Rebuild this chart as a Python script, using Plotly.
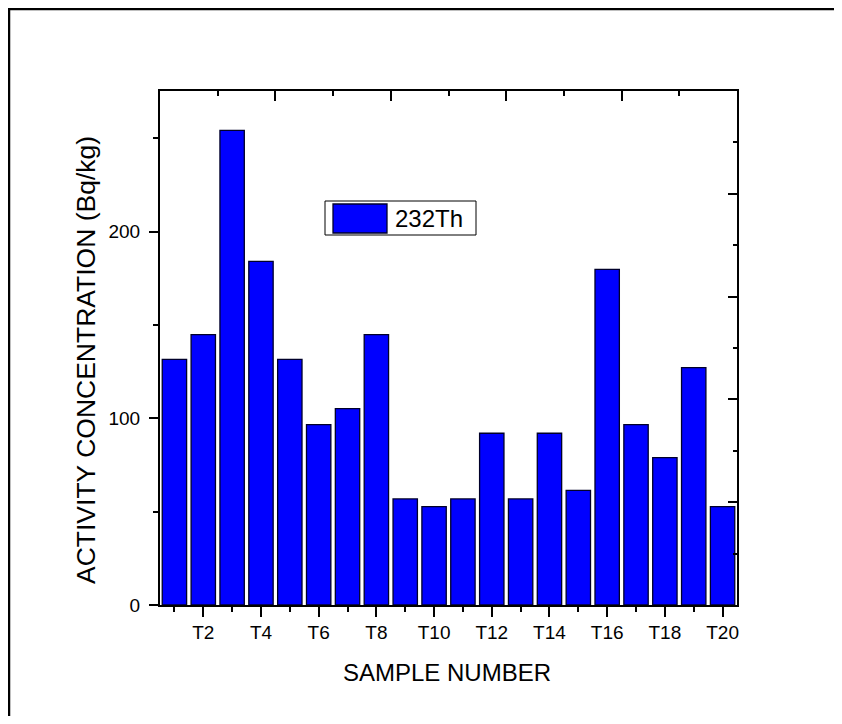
import plotly.graph_objects as go

# ---- data ----
samples = [f"T{i}" for i in range(1, 21)]
sample_pos = list(range(1, 21))
th232 = [131.6, 144.8, 254.2, 184.1, 131.6, 96.6, 105.2, 144.8, 56.8, 52.7,
         56.8, 92.0, 56.8, 92.0, 61.4, 179.8, 96.6, 78.9, 127.1, 52.7]
series_name = "232Th"
x_tick_vals = list(range(2, 21, 2))
x_tick_text = [samples[v - 1] for v in x_tick_vals]
y_tick_vals = [0, 100, 200]
x_title = "SAMPLE NUMBER"
y_title = "ACTIVITY CONCENTRATION (Bq/kg)"

# page body has an 8px margin: the figure is placed at (8, 8) on screen
OFF = 8
W, H = 842 - 2 * OFF, 724 - 2 * OFF
L, R, T, B = 160 - OFF, 737 - OFF, 91 - OFF, 605 - OFF
pw, ph = R - L, B - T

def px(x):  # screen x -> paper
    return (x - OFF - L) / pw

def py(y):  # screen y -> paper
    return (B - (y - OFF)) / ph

FONT = "Liberation Sans, Arial, sans-serif"

fig = go.Figure()
fig.add_trace(go.Bar(
    x=sample_pos, y=th232, name=series_name,
    marker=dict(color="#0000FF", line=dict(color="#00002a", width=1.3)),
    showlegend=False,
))
# helper invisible trace so the frame axes (top / right) exist
fig.add_trace(go.Scatter(x=[None], y=[None], xaxis="x2", yaxis="y2",
                         showlegend=False, hoverinfo="skip"))

fig.update_layout(
    width=W, height=H,
    margin=dict(l=L, r=W - R, t=T, b=H - B, pad=0),
    paper_bgcolor="white", plot_bgcolor="white",
    font=dict(family=FONT, color="black", size=19),
    bargap=0.155,
    xaxis=dict(
        range=[0.5, 20.5], tickvals=x_tick_vals, ticktext=x_tick_text,
        ticks="outside", ticklen=10, tickwidth=1.8, tickcolor="black",
        showline=True, linewidth=2, linecolor="black", showgrid=False,
        zeroline=False, tickfont=dict(size=19, family=FONT),
        ticklabelstandoff=-1,
        minor=dict(tickvals=list(range(1, 21, 2)), ticks="outside", ticklen=5,
                   tickwidth=1.5, tickcolor="black"),
    ),
    yaxis=dict(
        range=[0, 275.3], tickvals=y_tick_vals,
        ticks="outside", ticklen=9, tickwidth=1.8, tickcolor="black",
        showline=True, linewidth=2, linecolor="black", showgrid=False,
        zeroline=False, tickfont=dict(size=19, family=FONT),
        ticklabelstandoff=5,
        minor=dict(dtick=50, ticks="outside", ticklen=5, tickwidth=1.5,
                   tickcolor="black"),
    ),
    xaxis2=dict(
        overlaying="x", side="top", range=[0, 5], dtick=1, tick0=0,
        ticks="inside", ticklen=10, tickwidth=1.8, tickcolor="black",
        showticklabels=False, showline=True, linewidth=2, linecolor="black",
        showgrid=False, zeroline=False,
        minor=dict(dtick=0.5, ticks="inside", ticklen=5, tickwidth=1.5,
                   tickcolor="black"),
    ),
    yaxis2=dict(
        overlaying="y", side="right", range=[0, 5], dtick=1, tick0=0,
        ticks="inside", ticklen=9, tickwidth=1.8, tickcolor="black",
        showticklabels=False, showline=True, linewidth=2, linecolor="black",
        showgrid=False, zeroline=False,
        minor=dict(dtick=0.5, ticks="inside", ticklen=4.5, tickwidth=1.5,
                   tickcolor="black"),
    ),
)

# axis titles
fig.add_annotation(text=x_title, xref="paper", yref="paper",
                   x=px(447), y=py(672), showarrow=False,
                   font=dict(size=24, family=FONT), xanchor="center", yanchor="middle")
fig.add_annotation(text=y_title, xref="paper", yref="paper",
                   x=px(86), y=py(360), showarrow=False, textangle=-90,
                   font=dict(size=26.5, family=FONT), xanchor="center", yanchor="middle")

# legend box (custom, Origin-style)
fig.add_shape(type="rect", xref="paper", yref="paper",
              x0=px(325), x1=px(476), y0=py(235), y1=py(201),
              line=dict(color="black", width=1), fillcolor="white")
fig.add_shape(type="rect", xref="paper", yref="paper",
              x0=px(333), x1=px(387), y0=py(233), y1=py(204),
              line=dict(color="#00002a", width=1.3), fillcolor="#0000FF")
fig.add_annotation(text=series_name, xref="paper", yref="paper",
                   x=px(393), y=py(218), showarrow=False, xanchor="left",
                   yanchor="middle", font=dict(size=24, family=FONT))

# outer page frame (left and top edges visible)
fig.add_shape(type="line", xref="paper", yref="paper",
              x0=px(8), x1=px(834), y0=py(9), y1=py(9),
              line=dict(color="black", width=2.5))
fig.add_shape(type="line", xref="paper", yref="paper",
              x0=px(9), x1=px(9), y0=py(8), y1=py(730),
              line=dict(color="black", width=2.5))

fig.write_html("out.html")
